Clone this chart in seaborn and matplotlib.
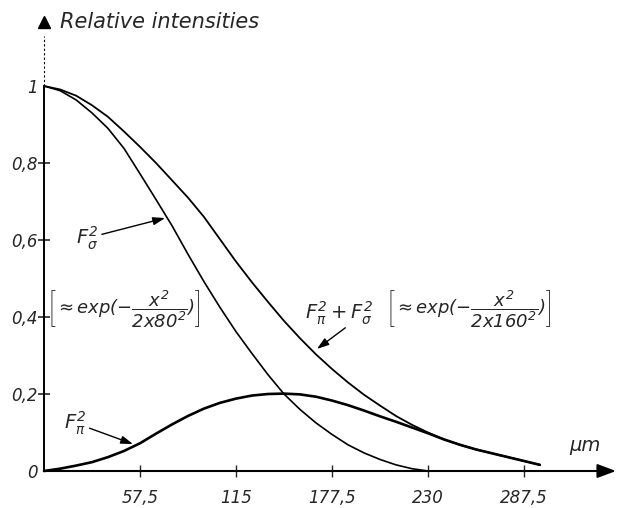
import matplotlib
matplotlib.use("Agg")
import matplotlib.pyplot as plt
import seaborn as sns
import pandas as pd

# ---- data (µm, relative intensity) ----
x_sigma = [0, 9.6, 19.2, 28.75, 38.3, 47.9, 57.5, 67.1, 76.7, 86.25, 95.8, 105.4,
           115, 124.6, 134.2, 143.75, 153.3, 162.9, 172.5, 182.1, 191.7, 201.25,
           210.8, 220.4, 230]
f_sigma = [1.000, 0.988, 0.964, 0.930, 0.890, 0.838, 0.772, 0.705, 0.637, 0.563,
           0.492, 0.425, 0.362, 0.305, 0.250, 0.200, 0.160, 0.125, 0.095, 0.068,
           0.047, 0.030, 0.016, 0.006, 0.0]

x_total = [0, 9.6, 19.2, 28.75, 38.3, 47.9, 57.5, 67.1, 76.7, 86.25, 95.8, 105.4,
           115, 124.6, 134.2, 143.75, 153.3, 162.9, 172.5, 182.1, 191.7, 201.25,
           210.8, 220.4, 230, 239.6, 249.2, 258.75, 268.3, 277.9, 287.5, 297]
f_total = [1.000, 0.991, 0.975, 0.950, 0.920, 0.882, 0.842, 0.800, 0.755, 0.710,
           0.660, 0.602, 0.544, 0.490, 0.439, 0.390, 0.345, 0.303, 0.265, 0.230,
           0.198, 0.170, 0.143, 0.120, 0.100, 0.082, 0.068, 0.056, 0.046, 0.036,
           0.026, 0.016]

x_pi = [0, 9.6, 19.2, 28.75, 38.3, 47.9, 57.5, 67.1, 76.7, 86.25, 95.8, 105.4,
        115, 124.6, 134.2, 143.75, 153.3, 162.9, 172.5, 182.1, 191.7, 201.25,
        210.8, 220.4, 230, 239.6, 249.2, 258.75, 268.3, 277.9, 287.5, 297]
f_pi = [0.0, 0.006, 0.014, 0.023, 0.036, 0.052, 0.072, 0.097, 0.121, 0.143, 0.162,
        0.177, 0.188, 0.196, 0.200, 0.201, 0.199, 0.193, 0.183, 0.171, 0.157,
        0.142, 0.128, 0.113, 0.098, 0.082, 0.068, 0.056, 0.046, 0.036, 0.026,
        0.016]

xtick_values = [57.5, 115, 172.5, 230, 287.5]
xtick_labels = ["57,5", "115", "177,5", "230", "287,5"]
ytick_values = [0, 0.2, 0.4, 0.6, 0.8, 1.0]
ytick_labels = ["0", "0,2", "0,4", "0,6", "0,8", "1"]

# ---- style ----
sns.set_style("white")
plt.rcParams["font.family"] = ["DejaVu Sans"]
plt.rcParams["font.style"] = "italic"
plt.rcParams["mathtext.fontset"] = "custom"
plt.rcParams["mathtext.rm"] = "DejaVu Sans:italic"
plt.rcParams["mathtext.it"] = "DejaVu Sans:italic"
plt.rcParams["mathtext.default"] = "it"

W, H = 618, 508
fig = plt.figure(figsize=(W / 100, H / 100), dpi=100)
ax = fig.add_axes([44 / W, (H - 471) / H, (616 - 44) / W, (471 - 14) / H])
XMAX = (616 - 44) * 0.599
YMAX = (471 - 14) / 385
ax.set_xlim(0, XMAX)
ax.set_ylim(0, YMAX)
for s in ax.spines.values():
    s.set_visible(False)

df_s = pd.DataFrame({"x": x_sigma, "y": f_sigma})
df_t = pd.DataFrame({"x": x_total, "y": f_total})
df_p = pd.DataFrame({"x": x_pi, "y": f_pi})
for df, lw in [(df_s, 1.2), (df_t, 1.3), (df_p, 1.9)]:
    sns.lineplot(data=df, x="x", y="y", ax=ax, color="black", lw=lw,
                 clip_on=False, estimator=None, sort=False,
                 solid_joinstyle="round", solid_capstyle="round")

# axes with arrows
ax.plot([0, 0], [0, 1.0], color="black", lw=1.4, clip_on=False)
ax.plot([0, 0], [1.0, 1.13], color="black", lw=0.8, ls=(0, (2, 2)), clip_on=False)
ax.plot([0], [1.165], marker="^", ms=9, color="black", clip_on=False)
ax.annotate("", xy=(XMAX, 0), xytext=(0, 0),
            arrowprops=dict(arrowstyle="-|>,head_length=0.8,head_width=0.3",
                            lw=1.5, color="black", mutation_scale=14,
                            shrinkA=0, shrinkB=0),
            annotation_clip=False)

ax.set_xticks(xtick_values)
ax.set_xticklabels(xtick_labels)
ax.set_yticks(ytick_values)
ax.set_yticklabels(ytick_labels)
ax.tick_params(axis="x", direction="inout", length=8, width=1.0, pad=9,
               labelsize=12, bottom=True)
ax.tick_params(axis="y", direction="inout", length=9, width=1.2, pad=0,
               labelsize=12, left=True)
yt = ax.yaxis.get_major_ticks()
yt[0].tick1line.set_visible(False)
yt[-1].tick1line.set_visible(False)
ax.set_xlabel("")
ax.set_ylabel("")

ax.text(9.6, 1.166, "Relative intensities", fontsize=15, va="center", ha="left")
ax.text(314.5, 0.065, "μm", fontsize=14, va="center", ha="left")

arrow = dict(arrowstyle="-|>,head_length=0.6,head_width=0.2", lw=1.0,
             color="black", mutation_scale=12, shrinkA=0, shrinkB=0)
ax.annotate(r"$F_\sigma^2$", xy=(72.5, 0.657), xytext=(26, 0.605),
            fontsize=14, va="center", ha="center", arrowprops=arrow)
ax.annotate(r"$F_\pi^2$", xy=(53.3, 0.070), xytext=(18.6, 0.125),
            fontsize=14, va="center", ha="center", arrowprops=arrow)
ax.text(177, 0.41, r"$F_\pi^2+F_\sigma^2$", fontsize=14, va="center", ha="center")
ax.annotate("", xy=(163.5, 0.317), xytext=(180.5, 0.372), arrowprops=arrow)
ax.text(2, 0.42, r"$\left[\approx exp(-\dfrac{x^2}{2x80^2})\right]$",
        fontsize=13, va="center", ha="left")
ax.text(205, 0.42, r"$\left[\approx exp(-\dfrac{x^2}{2x160^2})\right]$",
        fontsize=13, va="center", ha="left")

fig.savefig("out.png", dpi=100)
